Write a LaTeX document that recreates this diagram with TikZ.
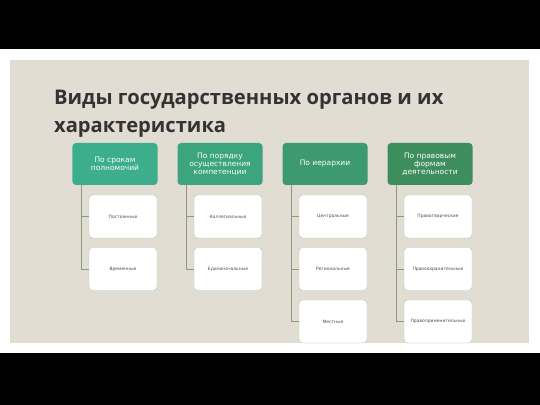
\documentclass[tikz,border=0pt]{standalone}
\usepackage{fontspec}
\setmainfont{Open Sans}
\newfontfamily\boxfont{DejaVu Sans}
\usetikzlibrary{positioning}
\definecolor{slidebg}{HTML}{E2DDD3}
\definecolor{titlegray}{HTML}{333333}
\definecolor{hdrA}{HTML}{3DAE8C}
\definecolor{hdrB}{HTML}{3CA47E}
\definecolor{hdrC}{HTML}{3C9970}
\definecolor{hdrD}{HTML}{3D8D5E}
\definecolor{boxline}{HTML}{A9CDB6}
\definecolor{trunk}{HTML}{8C9A80}
\tikzset{
    header/.style = {rectangle, rounded corners=3pt, align=center, text=white,
        font=\boxfont\fontsize{6.4}{7}\selectfont, minimum width=2.55cm, minimum height=1.26cm, inner sep=1pt},
    leaf/.style = {rectangle, rounded corners=3pt, draw=boxline, fill=white, align=center,
        font=\boxfont\fontsize{3.8}{4}\selectfont, text=black!70, minimum width=2.04cm, minimum height=1.29cm, inner sep=1pt},
    conn/.style = {-, draw=trunk, line width=0.7pt},
    headline/.style = {anchor=base west, text=titlegray, font=\bfseries\fontsize{17.2}{22}\selectfont},
}
\begin{document}
\begin{tikzpicture}[x=0.03cm, y=-0.03cm]
% frame of the slide
\fill[black] (0,0) rectangle (540,405);
\fill[white] (0,49) rectangle (540,353);
\fill[slidebg] (10,60) rectangle (529,343);
\useasboundingbox (0,0) rectangle (540,405);
%
\node[headline] (title) at (50,105) {Виды государственных органов и их};
\node[headline] (title2) at (50,133) {характеристика};
%
\node[header, fill=hdrA] at (115,164) (h1) {По срокам\\полномочий};
\node[header, fill=hdrB] at (220,164) (h2) {По порядку\\осуществления\\компетенции};
\node[header, fill=hdrC] at (325,164) (h3) {По иерархии};
\node[header, fill=hdrD] at (430,164) (h4) {По правовым\\формам\\деятельности};
%
\node[leaf] at (123,216.5) (a1) {Постоянные};
\node[leaf] at (123,269) (a2) {Временные};
\node[leaf] at (228,216.5) (b1) {Коллегиальные};
\node[leaf] at (228,269) (b2) {Единоначальные};
\node[leaf] at (333,216.5) (c1) {Центральные};
\node[leaf] at (333,269) (c2) {Региональные};
\node[leaf] at (333,321.5) (c3) {Местные};
\node[leaf] at (438,216.5) (d1) {Правотворческие};
\node[leaf] at (438,269) (d2) {Правоохранительные};
\node[leaf] at (438,321.5) (d3) {Правоприменительные};
%
\coordinate (t1) at (81,185);
\coordinate (t2) at (186,185);
\coordinate (t3) at (291,185);
\coordinate (t4) at (396,185);
\draw[conn] (t1) |- (a1.west);
\draw[conn] (t1) |- (a2.west);
\draw[conn] (t2) |- (b1.west);
\draw[conn] (t2) |- (b2.west);
\draw[conn] (t3) |- (c1.west);
\draw[conn] (t3) |- (c2.west);
\draw[conn] (t3) |- (c3.west);
\draw[conn] (t4) |- (d1.west);
\draw[conn] (t4) |- (d2.west);
\draw[conn] (t4) |- (d3.west);
\end{tikzpicture}
\end{document}
